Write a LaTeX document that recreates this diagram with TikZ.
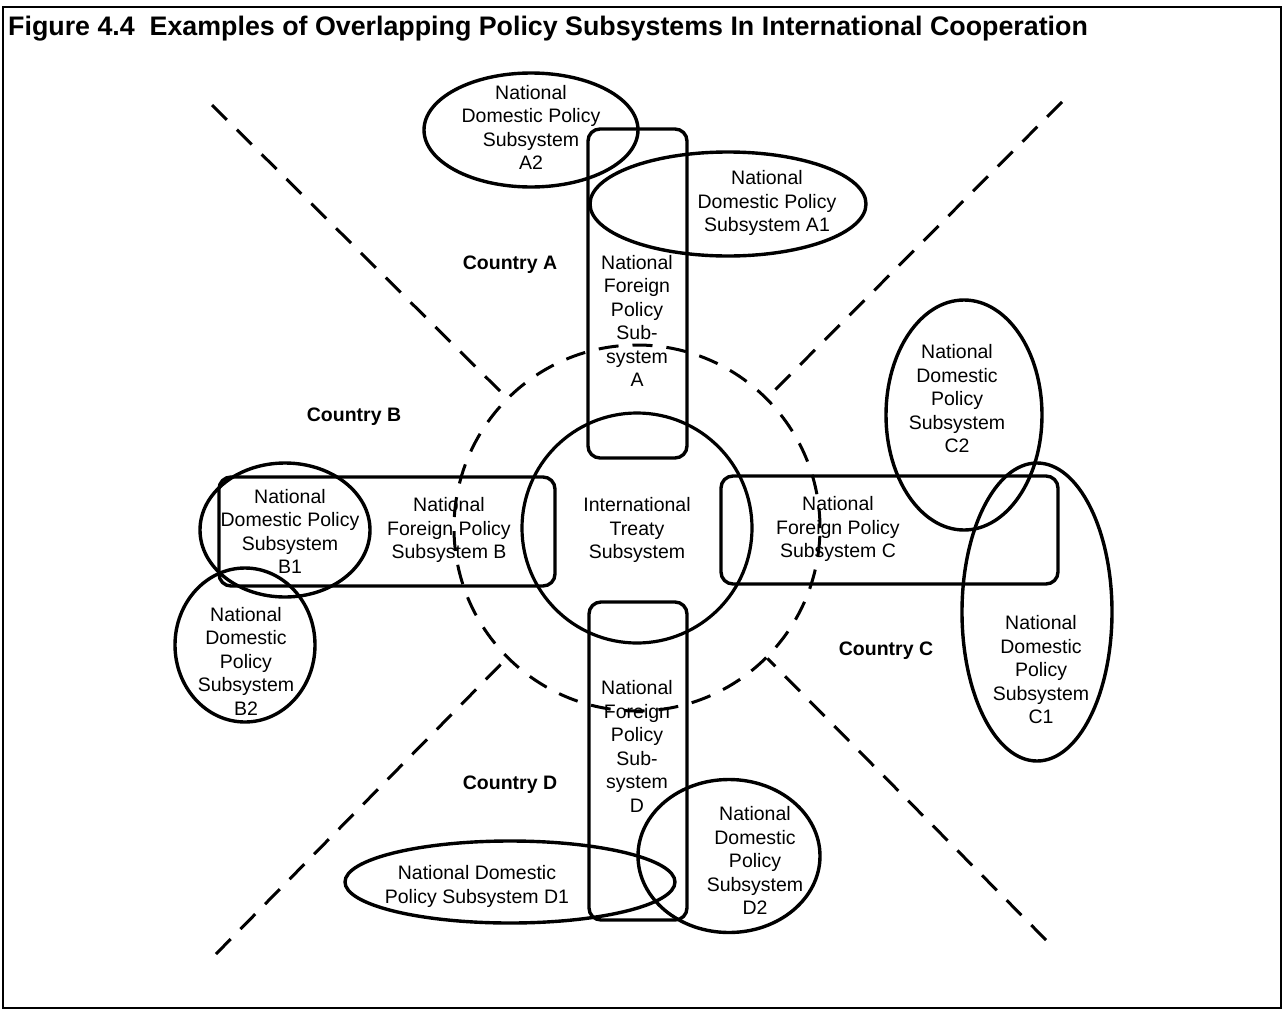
\documentclass[tikz,border=0pt]{standalone}
\usepackage{fontspec}
\setmainfont{Liberation Sans}
\usetikzlibrary{shapes.geometric}
\begin{document}
\begin{tikzpicture}[x=1pt,y=-1pt,
  frame/.style={draw,line width=2pt},
  dom/.style={ellipse,draw,line width=3.4pt,inner sep=0pt},
  fpbox/.style={rectangle,rounded corners=12pt,draw,line width=3.4pt,inner sep=0pt},
  treaty/.style={circle,draw,line width=3.2pt,inner sep=0pt,minimum size=230pt},
  ring/.style={circle,draw,line width=3pt,dash pattern=on 20pt off 14pt,inner sep=0pt,minimum size=366pt},
  divider/.style={line width=3pt,dash pattern=on 21pt off 14pt},
  txt/.style={align=center,inner sep=0pt,font=\fontsize{19.5}{23.5}\selectfont},
  country/.style={inner sep=0pt,font=\fontsize{19.5}{23.5}\selectfont\bfseries},
  title/.style={anchor=base west,inner sep=0pt,font=\fontsize{26.8}{30}\selectfont\bfseries}]
\useasboundingbox (0,0) rectangle (1283,1015);
\fill[white] (0,0) rectangle (1283,1015);

% outer frame and heading
\draw[frame] (3,7) rectangle (1281,1008);
\node[title] (head) at (8,35) {Figure 4.4\ \ Examples of Overlapping Policy Subsystems In International Cooperation};

% central treaty subsystem
\node[treaty] (treaty) at (637,528) {};
\node[txt] (treatyt) at (637,530) {International\\Treaty\\Subsystem};

% national foreign policy subsystems
\node[fpbox,minimum width=99pt,minimum height=329pt] (fpA) at (637.5,293.5) {};
\node[fpbox,minimum width=98pt,minimum height=318pt] (fpD) at (638,761) {};
\node[fpbox,minimum width=336pt,minimum height=109pt] (fpB) at (387,531.5) {};
\node[fpbox,minimum width=337pt,minimum height=108pt] (fpC) at (889.5,530) {};
\node[txt] (fpAt) at (637,321) {National\\Foreign\\Policy\\Sub-\\system\\A};
\node[txt] (fpDt) at (637,746.5) {National\\Foreign\\Policy\\Sub-\\system\\D};
\node[txt] (fpBt) at (449,530) {National\\Foreign Policy\\Subsystem B};
\node[txt] (fpCt) at (838,529) {National\\Foreign Policy\\Subsystem C};

% national domestic policy subsystems
\node[dom,minimum width=214pt,minimum height=114pt] (A2) at (531,130) {};
\node[dom,minimum width=276pt,minimum height=104pt] (A1) at (728,204) {};
\node[dom,minimum width=170pt,minimum height=134pt] (B1) at (285,530) {};
\node[dom,minimum width=140pt,minimum height=154pt] (B2) at (245,645) {};
\node[dom,minimum width=156pt,minimum height=230pt] (C2) at (964,415) {};
\node[dom,minimum width=150pt,minimum height=298pt] (C1) at (1037,612) {};
\node[dom,minimum width=330pt,minimum height=82pt] (D1) at (510,882) {};
\node[dom,minimum width=182pt,minimum height=153pt] (D2) at (729,856) {};

\node[txt] (A2t) at (531,127.5) {National\\Domestic Policy\\Subsystem\\A2};
\node[txt] (A1t) at (767,203) {National\\Domestic Policy\\Subsystem A1};
\node[txt] (B1t) at (290,531.5) {National\\Domestic Policy\\Subsystem\\B1};
\node[txt] (B2t) at (246,661) {National\\Domestic\\Policy\\Subsystem\\B2};
\node[txt] (C2t) at (957,399) {National\\Domestic\\Policy\\Subsystem\\C2};
\node[txt] (C1t) at (1041,670) {National\\Domestic\\Policy\\Subsystem\\C1};
\node[txt] (D1t) at (477,886.5) {National Domestic\\Policy Subsystem D1};
\node[txt] (D2t) at (755,860.5) {National\\Domestic\\Policy\\Subsystem\\D2};

% country labels
\node[country] (cA) at (510,265) {Country A};
\node[country] (cB) at (354,417) {Country B};
\node[country] (cC) at (886,651) {Country C};
\node[country] (cD) at (510,785) {Country D};

% dashed boundary of the international arena and the country dividers
\node[ring] (ring) at (637,528) {};
\coordinate (nw) at (212,105);
\coordinate (ne) at (1062,102);
\coordinate (sw) at (216,954);
\coordinate (se) at (1046,940);
\draw[divider] (nw) -- (ring.135);
\draw[divider] (ne) -- (ring.45);
\draw[divider] (sw) -- (ring.225);
\draw[divider] (se) -- (ring.-45);
\end{tikzpicture}
\end{document}
